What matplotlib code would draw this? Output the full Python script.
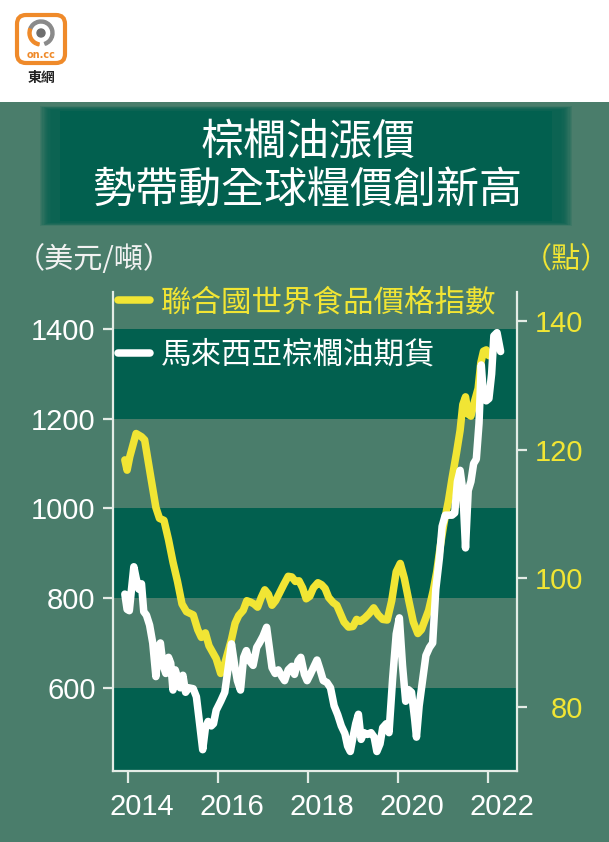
import matplotlib
matplotlib.use("Agg")
import matplotlib.pyplot as plt
from matplotlib.patches import Rectangle, FancyBboxPatch, Circle, Wedge
from matplotlib.transforms import ScaledTranslation

# ---- data ----
# Malaysian palm oil futures, USD per tonne (left axis)
palm_years = [2013.93, 2013.98, 2014.03, 2014.07, 2014.13, 2014.18, 2014.24, 2014.30, 2014.35, 2014.41,
              2014.48, 2014.55, 2014.62, 2014.68, 2014.72, 2014.78, 2014.84, 2014.90, 2014.95, 2015.00,
              2015.05, 2015.11, 2015.16, 2015.22, 2015.28, 2015.35, 2015.45, 2015.52, 2015.58, 2015.66,
              2015.72, 2015.78, 2015.85, 2015.90, 2015.96, 2016.06, 2016.15, 2016.22, 2016.30, 2016.37,
              2016.43, 2016.50, 2016.57, 2016.63, 2016.70, 2016.78, 2016.86, 2016.92, 2017.00, 2017.08,
              2017.14, 2017.20, 2017.27, 2017.34, 2017.42, 2017.48, 2017.56, 2017.64, 2017.70, 2017.78,
              2017.84, 2017.92, 2017.98, 2018.05, 2018.12, 2018.20, 2018.27, 2018.34, 2018.42, 2018.50,
              2018.58, 2018.66, 2018.74, 2018.82, 2018.88, 2018.94, 2019.00, 2019.06, 2019.12, 2019.18,
              2019.24, 2019.32, 2019.40, 2019.47, 2019.53, 2019.60, 2019.66, 2019.74, 2019.80, 2019.88,
              2019.96, 2020.03, 2020.10, 2020.17, 2020.23, 2020.30, 2020.37, 2020.41, 2020.47, 2020.55,
              2020.62, 2020.70, 2020.77, 2020.84, 2020.92, 2020.98, 2021.05, 2021.12, 2021.20, 2021.26,
              2021.32, 2021.38, 2021.44, 2021.50, 2021.56, 2021.62, 2021.68, 2021.74, 2021.80, 2021.85,
              2021.90, 2021.96, 2022.02, 2022.08, 2022.13, 2022.20, 2022.28]
palm_usd = [809, 775, 772, 812, 870, 845, 820, 832, 770, 762,
            740, 700, 625, 690, 700, 650, 632, 668, 655, 595,
            640, 620, 600, 628, 590, 600, 598, 580, 530, 462,
            510, 525, 515, 520, 550, 570, 590, 640, 698, 650,
            616, 595, 668, 683, 660, 650, 690, 700, 715, 735,
            690, 645, 632, 640, 625, 616, 640, 648, 630, 660,
            668, 630, 616, 630, 645, 662, 640, 616, 612, 600,
            560, 540, 515, 498, 470, 458, 490, 520, 541, 485,
            500, 496, 500, 490, 458, 475, 511, 520, 500, 620,
            720, 756, 650, 570, 596, 590, 530, 490, 560, 620,
            672, 690, 700, 820, 890, 960, 985, 985, 985, 990,
            1060, 1085, 1040, 912, 1040, 1060, 1100, 1110, 1190, 1320,
            1250, 1240, 1245, 1300, 1385, 1392, 1350]

# FAO world food price index, points (right axis)
fao_years = [2013.93, 2013.98, 2014.04, 2014.18, 2014.30, 2014.37, 2014.50, 2014.62, 2014.70, 2014.80,
             2014.90, 2015.00, 2015.10, 2015.20, 2015.30, 2015.45, 2015.55, 2015.63, 2015.72, 2015.80,
             2015.88, 2015.96, 2016.06, 2016.14, 2016.22, 2016.30, 2016.38, 2016.46, 2016.56, 2016.64,
             2016.72, 2016.80, 2016.88, 2016.96, 2017.04, 2017.12, 2017.20, 2017.28, 2017.36, 2017.46,
             2017.56, 2017.64, 2017.72, 2017.80, 2017.88, 2017.96, 2018.04, 2018.12, 2018.22, 2018.30,
             2018.38, 2018.46, 2018.56, 2018.64, 2018.72, 2018.80, 2018.90, 2019.00, 2019.08, 2019.16,
             2019.26, 2019.36, 2019.46, 2019.56, 2019.66, 2019.76, 2019.86, 2019.96, 2020.05, 2020.14,
             2020.24, 2020.34, 2020.44, 2020.52, 2020.60, 2020.68, 2020.78, 2020.86, 2020.94, 2021.02,
             2021.12, 2021.20, 2021.30, 2021.38, 2021.44, 2021.50, 2021.56, 2021.62, 2021.70, 2021.78,
             2021.84, 2021.90, 2021.96, 2022.02]
fao_index = [118.4, 116.8, 118.9, 122.5, 122.0, 121.5, 116.0, 111.0, 109.3, 109.0,
             106.0, 102.5, 99.5, 96.0, 94.8, 94.3, 92.0, 90.8, 91.5, 89.5,
             88.5, 87.5, 85.2, 86.5, 88.5, 90.5, 93.0, 94.2, 95.0, 96.5,
             96.3, 96.0, 95.5, 97.0, 98.2, 97.5, 95.8, 96.5, 97.6, 99.0,
             100.3, 100.2, 99.5, 99.6, 98.5, 96.8, 97.2, 98.5, 99.3, 99.0,
             98.4, 97.0, 96.2, 95.8, 94.5, 93.2, 92.4, 92.5, 93.6, 93.3,
             93.8, 94.5, 95.4, 94.3, 93.6, 93.5, 96.5, 101.0, 102.3, 100.0,
             96.5, 93.2, 91.4, 92.0, 93.5, 95.0, 98.0, 101.0, 105.0, 108.5,
             112.0, 115.5, 119.5, 123.0, 127.0, 128.2, 125.5, 125.2, 127.5, 129.5,
             133.5, 135.3, 135.5, 134.6]

year_ticks = [2014, 2016, 2018, 2020, 2022]
usd_ticks = [600, 800, 1000, 1200, 1400]
index_ticks = [80, 100, 120, 140]
light_bands = [(600, 800), (1000, 1200), (1400, 1600)]

title_lines = ["棕櫚油漲價", "勢帶動全球糧價創新高"]
fao_label = "聯合國世界食品價格指數"
palm_label = "馬來西亞棕櫚油期貨"

# ---- style ----
BG = "#4a7d6b"
DARK = "#02604f"
YELLOW = "#f1e534"
SPINE = "#e4ece6"
ORANGE = "#ef8a2a"
NUM_FONT = ["Liberation Sans Narrow", "Liberation Sans", "DejaVu Sans"]

plt.rcParams['font.family'] = ['Noto Sans CJK TC', 'DejaVu Sans']

W, H = 609, 842
fig = plt.figure(figsize=(W / 100, H / 100), dpi=100, facecolor="white")

# overlay in pixel units for the page furniture
ov = fig.add_axes([0, 0, 1, 1])
ov.set_xlim(0, W)
ov.set_ylim(H, 0)
ov.axis("off")
ov.set_zorder(0)

ov.add_patch(Rectangle((0, 102), W, H - 102, color=BG, lw=0))
# title box with soft edges
for k in range(10):
    pad = 12 - k * 1.2
    ov.add_patch(Rectangle((52 - pad, 110 - pad * 0.3), 508 + 2 * pad, 112 + pad * 0.6,
                           color=DARK, alpha=0.16, lw=0))
ov.add_patch(Rectangle((60, 111), 492, 110, color=DARK, lw=0))
ov.text(308, 143, title_lines[0], ha="center", va="center", color="white", fontsize=31)
ov.text(308, 191, title_lines[1], ha="center", va="center", color="white", fontsize=31)

# logo
ov.add_patch(FancyBboxPatch((17, 15), 48, 48, boxstyle="round,pad=0,rounding_size=9",
                            facecolor="white", edgecolor=ORANGE, lw=3))
ov.add_patch(Wedge((41, 33), 13, 200, 430, width=3, color="#8a8a8a"))
ov.add_patch(Wedge((41, 33), 13, 100, 200, width=3, color=ORANGE))
ov.add_patch(Circle((41, 33), 4, color="#6e6e6e"))
ov.text(41, 55, "on.cc", ha="center", va="center", color=ORANGE, fontsize=7, fontweight="bold",
        family=["DejaVu Sans"])
ov.text(41, 78, "東網", ha="center", va="center", color="#222222", fontsize=10, fontweight="bold")

# axis unit labels
ov.text(16, 260, "（美元/噸）", ha="left", va="center", color="#f2f2f2", fontsize=21)
ov.text(523, 260, "（點）", ha="left", va="center", color=YELLOW, fontsize=21)

# ---- chart ----
ax = fig.add_axes([113 / W, 1 - 771 / H, (517 - 113) / W, (771 - 292) / H])
ax2 = ax.twinx()
ax.set_zorder(2)
ax2.set_zorder(1)
ax.patch.set_visible(False)
ax2.patch.set_visible(True)
ax2.patch.set_facecolor(DARK)

ax.set_xlim(2013.667, 2022.644)
ax.set_ylim(414.5, 1482.7)
ax2.set_ylim(70.03, 144.5)

for lo, hi in light_bands:
    ax2.add_patch(Rectangle((0, lo), 1, hi - lo, transform=ax.get_yaxis_transform(),
                            color=BG, lw=0, zorder=0))

fao_line, = ax2.plot(fao_years, fao_index, color=YELLOW, lw=5.4,
                     solid_joinstyle="round", solid_capstyle="round", zorder=3)
palm_line, = ax.plot(palm_years, palm_usd, color="white", lw=5.4,
                     solid_joinstyle="round", solid_capstyle="round", zorder=3)

for s in ["top", "right"]:
    ax.spines[s].set_visible(False)
for s in ["top", "left", "bottom"]:
    ax2.spines[s].set_visible(False)
for sp in [ax.spines["left"], ax.spines["bottom"], ax2.spines["right"]]:
    sp.set_color(SPINE)
    sp.set_linewidth(1.6)

ax.set_xticks(year_ticks)
ax.set_xticklabels([str(y) for y in year_ticks])
ax.set_yticks(usd_ticks)
ax.set_yticklabels([str(v) for v in usd_ticks])
ax2.set_yticks(index_ticks)
ax2.set_yticklabels([str(v) for v in index_ticks])

ax.tick_params(axis="x", direction="out", length=8.5, width=1.6, color=SPINE,
               labelcolor="white", labelsize=21, pad=7)
ax.tick_params(axis="y", direction="out", length=7.5, width=1.6, color=SPINE,
               labelcolor="white", labelsize=21, pad=5)
ax2.tick_params(axis="y", direction="out", length=7.5, width=1.6, color=SPINE,
                labelcolor=YELLOW, labelsize=21, pad=40)
for lab in ax.get_xticklabels() + ax.get_yticklabels() + ax2.get_yticklabels():
    lab.set_family(NUM_FONT)
# year labels sit a little to the right of their ticks in the original
shift = ScaledTranslation(14 / 100, 0, fig.dpi_scale_trans)
for lab in ax.get_xticklabels():
    lab.set_transform(lab.get_transform() + shift)
# right-hand labels are right aligned
for lab in ax2.get_yticklabels():
    lab.set_horizontalalignment("right")

leg = ax.legend([fao_line, palm_line], [fao_label, palm_label], loc="upper left",
                bbox_to_anchor=(118 / W, 1 - 287 / H), bbox_transform=fig.transFigure,
                frameon=False, prop={"family": ["Noto Sans CJK TC", "DejaVu Sans"], "size": 22},
                handlelength=1.05, handletextpad=0.35, labelspacing=0.7,
                labelcolor=[YELLOW, "white"], borderaxespad=0, borderpad=0)

fig.savefig("out.png", dpi=100, facecolor="white")
